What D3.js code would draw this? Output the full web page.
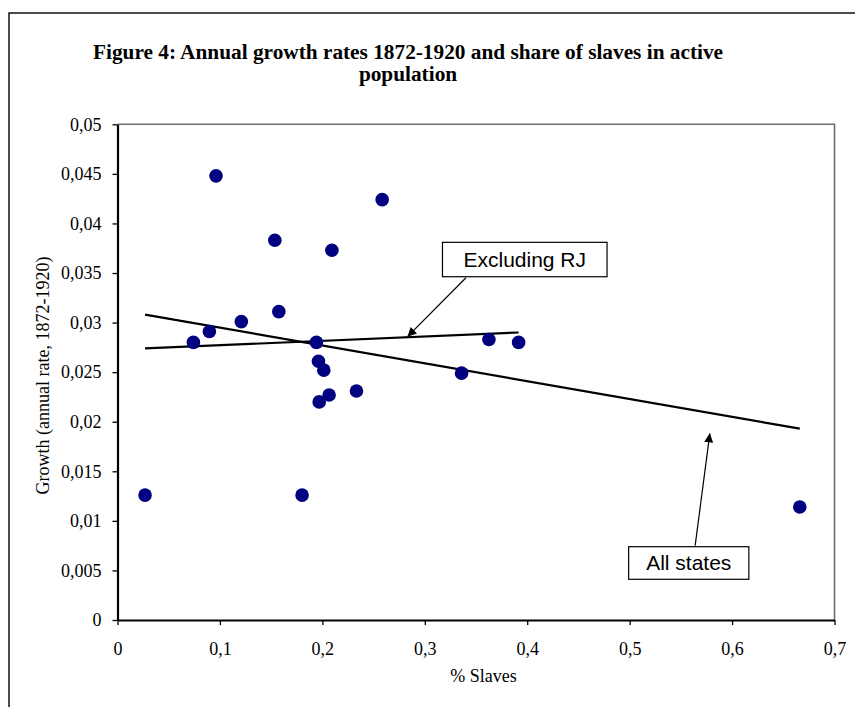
<!DOCTYPE html>
<html>
<head>
<meta charset="utf-8">
<script src="https://cdn.jsdelivr.net/npm/d3@7"></script>
<style>
  html, body { margin: 0; padding: 0; background: #fff; }
  svg { display: block; }
</style>
</head>
<body>
<svg id="chart" width="855" height="707"></svg>
<script>
// ---- data ----
const slaveShare = [0.0962, 0.2584, 0.1536, 0.2093, 0.1575, 0.1209, 0.0897, 0.0741, 0.1942, 0.1962,
                    0.2014, 0.2333, 0.2066, 0.1969, 0.3359, 0.3626, 0.3916, 0.0269, 0.1802, 0.6661];
const growthRate = [0.0448, 0.0424, 0.0383, 0.0373, 0.0311, 0.0301, 0.0291, 0.0280, 0.0280, 0.0261,
                    0.0252, 0.0231, 0.0227, 0.0220, 0.0249, 0.0283, 0.0280, 0.0126, 0.0126, 0.0114];
const trendAllX = [0.0269, 0.6661];
const trendAllY = [0.0308, 0.0193];
const trendExX = [0.0269, 0.3916];
const trendExY = [0.0274, 0.0290];
const xTicks = [0, 0.1, 0.2, 0.3, 0.4, 0.5, 0.6, 0.7];
const yTicks = [0, 0.005, 0.01, 0.015, 0.02, 0.025, 0.03, 0.035, 0.04, 0.045, 0.05];
const titleLines = ["Figure 4: Annual growth rates 1872-1920 and share of slaves in active", "population"];
const xTitle = "% Slaves";
const yTitle = "Growth (annual rate, 1872-1920)";
// callouts: label, arrow tip (data coords), box centre (data coords)
const calloutLabels = ["Excluding RJ", "All states"];
const calloutTipX = [0.2831, 0.5783];
const calloutTipY = [0.02858, 0.01883];
const calloutBoxX = [0.3976, 0.5577];
const calloutBoxY = [0.03636, 0.00575];

// ---- layout ----
const svg = d3.select("#chart");
const L = 117.5, R = 834.5, T = 124.3, B = 620;
const x = d3.scaleLinear().domain([0, 0.7]).range([L, R]);
const y = d3.scaleLinear().domain([0, 0.05]).range([B, T]);
const serif = "'Liberation Serif', 'Times New Roman', serif";
const sans = "'Liberation Sans', Arial, sans-serif";
const fmt = v => v === 0 ? "0" : String(+v.toFixed(3)).replace(".", ",");

// outer frame
svg.append("rect").attr("x", 9).attr("y", 13).attr("width", 900).attr("height", 800)
  .attr("fill", "none").attr("stroke", "#111").attr("stroke-width", 1.5);

// title
const title = svg.append("text").attr("x", 408).attr("text-anchor", "middle")
  .style("font-family", serif).style("font-weight", "bold").style("font-size", "21.3px").attr("fill", "#000");
titleLines.forEach((t, i) => title.append("tspan").attr("x", 408).attr("y", 59 + i * 22).text(t));

// plot border (top/right)
svg.append("path").attr("d", `M${L},${T}H${R}V${B}`).attr("fill", "none")
  .attr("stroke", "#6e6e6e").attr("stroke-width", 1.6);

// axes
const xAxis = svg.append("g").attr("transform", `translate(0,${B})`)
  .call(d3.axisBottom(x).tickValues(xTicks).tickFormat(fmt).tickSize(5).tickSizeOuter(0).tickPadding(17));
const yAxis = svg.append("g").attr("transform", `translate(${L},0)`)
  .call(d3.axisLeft(y).tickValues(yTicks).tickFormat(fmt).tickSize(5).tickSizeOuter(0).tickPadding(11));
[xAxis, yAxis].forEach(g => {
  g.select(".domain").attr("stroke", "#000").attr("stroke-width", 2.2);
  g.selectAll(".tick line").attr("stroke", "#000").attr("stroke-width", 1.3);
  g.selectAll(".tick text").style("font-family", serif).style("font-size", "18px").attr("fill", "#000");
});

// axis titles
svg.append("text").attr("x", 483.5).attr("y", 682).attr("text-anchor", "middle")
  .style("font-family", serif).style("font-size", "18px").text(xTitle);
svg.append("text").attr("transform", "translate(49,375.5) rotate(-90)").attr("text-anchor", "middle")
  .style("font-family", serif).style("font-size", "18px").text(yTitle);

// trend lines
const line = d3.line().x(d => x(d[0])).y(d => y(d[1]));
[[trendAllX, trendAllY], [trendExX, trendExY]].forEach(([xs, ys]) => {
  svg.append("path").datum(xs.map((v, i) => [v, ys[i]])).attr("d", line)
    .attr("fill", "none").attr("stroke", "#000").attr("stroke-width", 2.2);
});

// points
svg.append("g").selectAll("circle").data(slaveShare.map((v, i) => [v, growthRate[i]])).join("circle")
  .attr("cx", d => x(d[0])).attr("cy", d => y(d[1])).attr("r", 6.8).attr("fill", "#000080");

// arrow marker
svg.append("defs").append("marker").attr("id", "arr").attr("viewBox", "0 0 10 10")
  .attr("refX", 10).attr("refY", 5).attr("markerWidth", 11).attr("markerHeight", 9)
  .attr("markerUnits", "userSpaceOnUse").attr("orient", "auto")
  .append("path").attr("d", "M0,0L10,5L0,10z").attr("fill", "#000");

// callouts
const tailOffset = [-58.8, 6.4];
calloutLabels.forEach((lab, i) => {
  const cx = x(calloutBoxX[i]), cy = y(calloutBoxY[i]);
  const g = svg.append("g");
  const rect = g.append("rect");
  const txt = g.append("text").attr("x", cx).attr("y", cy + 7.5).attr("text-anchor", "middle")
    .style("font-family", sans).style("font-size", "21px").attr("fill", "#000").text(lab);
  const w = txt.node().getComputedTextLength();
  const padX = i === 0 ? 21 : 17.5;
  const h = i === 0 ? 34.4 : 32.6;
  rect.attr("x", cx - w / 2 - padX).attr("y", cy - h / 2).attr("width", w + 2 * padX).attr("height", h)
    .attr("fill", "#fff").attr("stroke", "#000").attr("stroke-width", 1.2);
  const tailY = i === 0 ? cy + h / 2 + 1 : cy - h / 2 - 1;
  svg.append("line").attr("x1", cx + tailOffset[i]).attr("y1", tailY)
    .attr("x2", x(calloutTipX[i])).attr("y2", y(calloutTipY[i]))
    .attr("stroke", "#000").attr("stroke-width", 1.2).attr("marker-end", "url(#arr)");
});
</script>
</body>
</html>
